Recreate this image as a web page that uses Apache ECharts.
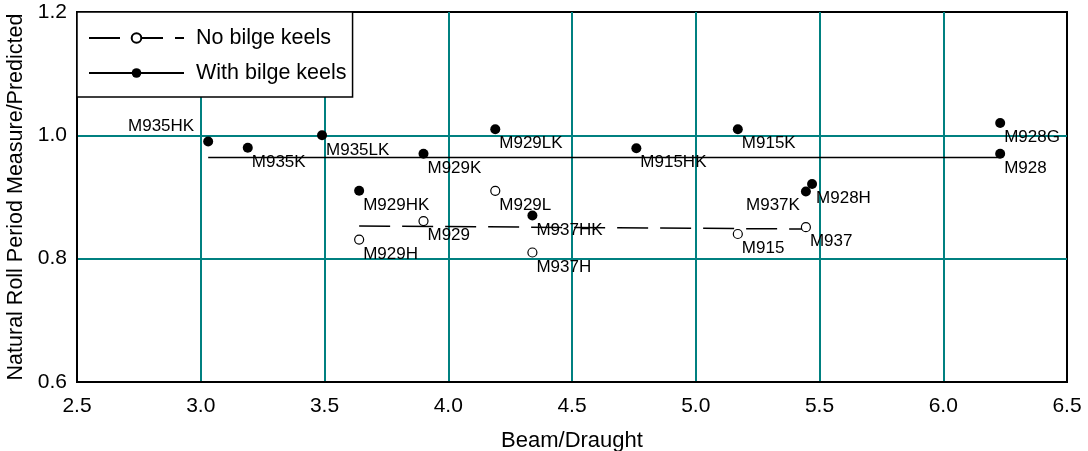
<!DOCTYPE html>
<html>
<head>
<meta charset="utf-8">
<script src="https://cdn.jsdelivr.net/npm/echarts@6/dist/echarts.min.js"></script>
<style>
  html, body { margin: 0; padding: 0; background: #fff; }
  #chart { width: 1088px; height: 451px; }
</style>
</head>
<body>
<div id="chart"></div>
<script>
// ---- Data ----
const withKeelNames = ['M935HK','M935K','M935LK','M929K','M929LK','M929HK','M937HK','M915HK','M915K','M937K','M928H','M928G','M928'];
const withKeelX     = [3.03, 3.19, 3.49, 3.90, 4.19, 3.64, 4.34, 4.76, 5.17, 5.445, 5.47, 6.23, 6.23];
const withKeelY     = [0.990, 0.980, 1.000, 0.970, 1.010, 0.910, 0.870, 0.979, 1.010, 0.909, 0.921, 1.020, 0.970];

const noKeelNames = ['M929H','M929','M929L','M937H','M915','M937'];
const noKeelX     = [3.64, 3.90, 4.19, 4.34, 5.17, 5.445];
const noKeelY     = [0.831, 0.861, 0.910, 0.810, 0.840, 0.851];

// Trend lines (start/end points)
const withKeelTrendX = [3.03, 6.23];
const withKeelTrendY = [0.964, 0.964];
const noKeelTrendX   = [3.64, 5.45];
const noKeelTrendY   = [0.853, 0.848];

const xTicks = [2.5, 3.0, 3.5, 4.0, 4.5, 5.0, 5.5, 6.0, 6.5];
const yTicks = [0.6, 0.8, 1.0, 1.2];

const legendNames = ['No bilge keels', 'With bilge keels'];
const xName = 'Beam/Draught';
const yName = 'Natural Roll Period Measure/Predicted';

// ---- Chart ----
const FONT = "'Liberation Sans', Arial, Helvetica, sans-serif";
const labelOverrides = {
  'M935HK': { align: 'right', offset: [-14, -15] },
  'M937K':  { align: 'right', offset: [-6, 13.5] }
};
function pts(names, xs, ys) {
  return names.map((n, i) => {
    const ov = labelOverrides[n] || {};
    return {
      name: n,
      value: [xs[i], ys[i]],
      label: {
        align: ov.align || 'left',
        offset: ov.offset || [4, 14.5]
      }
    };
  });
}
function line(xs, ys) { return xs.map((x, i) => [x, ys[i]]); }

const chart = echarts.init(document.getElementById('chart'), null, { renderer: 'canvas' });
const pointLabel = {
  show: true,
  position: 'inside',
  verticalAlign: 'middle',
  formatter: p => p.name,
  color: '#000',
  fontSize: 17,
  fontFamily: FONT
};

chart.setOption({
  animation: false,
  backgroundColor: '#fff',
  textStyle: { fontFamily: FONT },
  grid: {
    left: 77, right: 21, top: 12, bottom: 69,
    outerBoundsMode: 'none',
    containLabel: false,
    show: true, borderColor: '#000', borderWidth: 2, backgroundColor: 'transparent'
  },
  legend: {
    data: legendNames,
    orient: 'vertical',
    left: 77, top: 12,
    padding: [15, 6, 13, 11],
    itemGap: 13,
    itemWidth: 95,
    itemHeight: 12,
    backgroundColor: '#fff',
    borderColor: '#000',
    borderWidth: 1.5,
    borderRadius: 0,
    selectedMode: false,
    textStyle: { fontSize: 21.5, color: '#000', fontFamily: FONT, padding: [0, 0, 0, 7] }
  },
  xAxis: {
    type: 'value',
    min: xTicks[0], max: xTicks[xTicks.length - 1], interval: 0.5,
    name: xName,
    nameLocation: 'middle',
    nameGap: 48,
    nameTextStyle: { fontSize: 22, color: '#000', fontFamily: FONT },
    axisLine: { show: true, lineStyle: { color: '#000', width: 2 } },
    axisTick: { show: false },
    axisLabel: { fontSize: 21, color: '#000', margin: 14, fontFamily: FONT, formatter: v => v.toFixed(1) },
    splitLine: { show: true, showMinLine: false, showMaxLine: false, lineStyle: { color: '#008080', width: 2 } }
  },
  yAxis: {
    type: 'value',
    min: yTicks[0], max: yTicks[yTicks.length - 1], interval: 0.2,
    name: yName,
    nameLocation: 'middle',
    nameGap: 49,
    nameTextStyle: { fontSize: 21.5, color: '#000', fontFamily: FONT },
    axisLine: { show: true, lineStyle: { color: '#000', width: 2 } },
    axisTick: { show: false },
    axisLabel: { fontSize: 21, color: '#000', margin: 10, fontFamily: FONT, formatter: v => v.toFixed(1) },
    splitLine: { show: true, showMinLine: false, showMaxLine: false, lineStyle: { color: '#008080', width: 2 } }
  },
  series: [
    {
      name: legendNames[0],
      type: 'line',
      data: line(noKeelTrendX, noKeelTrendY),
      symbol: 'emptyCircle',
      showSymbol: false,
      itemStyle: { color: '#000' },
      lineStyle: { color: '#000', width: 1.5, type: [31, 12] },
      silent: true, z: 2
    },
    {
      name: legendNames[1],
      type: 'line',
      data: line(withKeelTrendX, withKeelTrendY),
      symbol: 'circle',
      showSymbol: false,
      itemStyle: { color: '#000' },
      lineStyle: { color: '#000', width: 1.5 },
      silent: true, z: 2
    },
    {
      name: 'no-keel-points',
      type: 'scatter',
      data: pts(noKeelNames, noKeelX, noKeelY),
      symbol: 'circle',
      symbolSize: 9,
      itemStyle: { color: '#fff', borderColor: '#000', borderWidth: 1.2, opacity: 1 },
      label: pointLabel,
      z: 3
    },
    {
      name: 'keel-points',
      type: 'scatter',
      data: pts(withKeelNames, withKeelX, withKeelY),
      symbol: 'circle',
      symbolSize: 10,
      itemStyle: { color: '#000', opacity: 1 },
      label: pointLabel,
      z: 3
    }
  ]
});
</script>
</body>
</html>
